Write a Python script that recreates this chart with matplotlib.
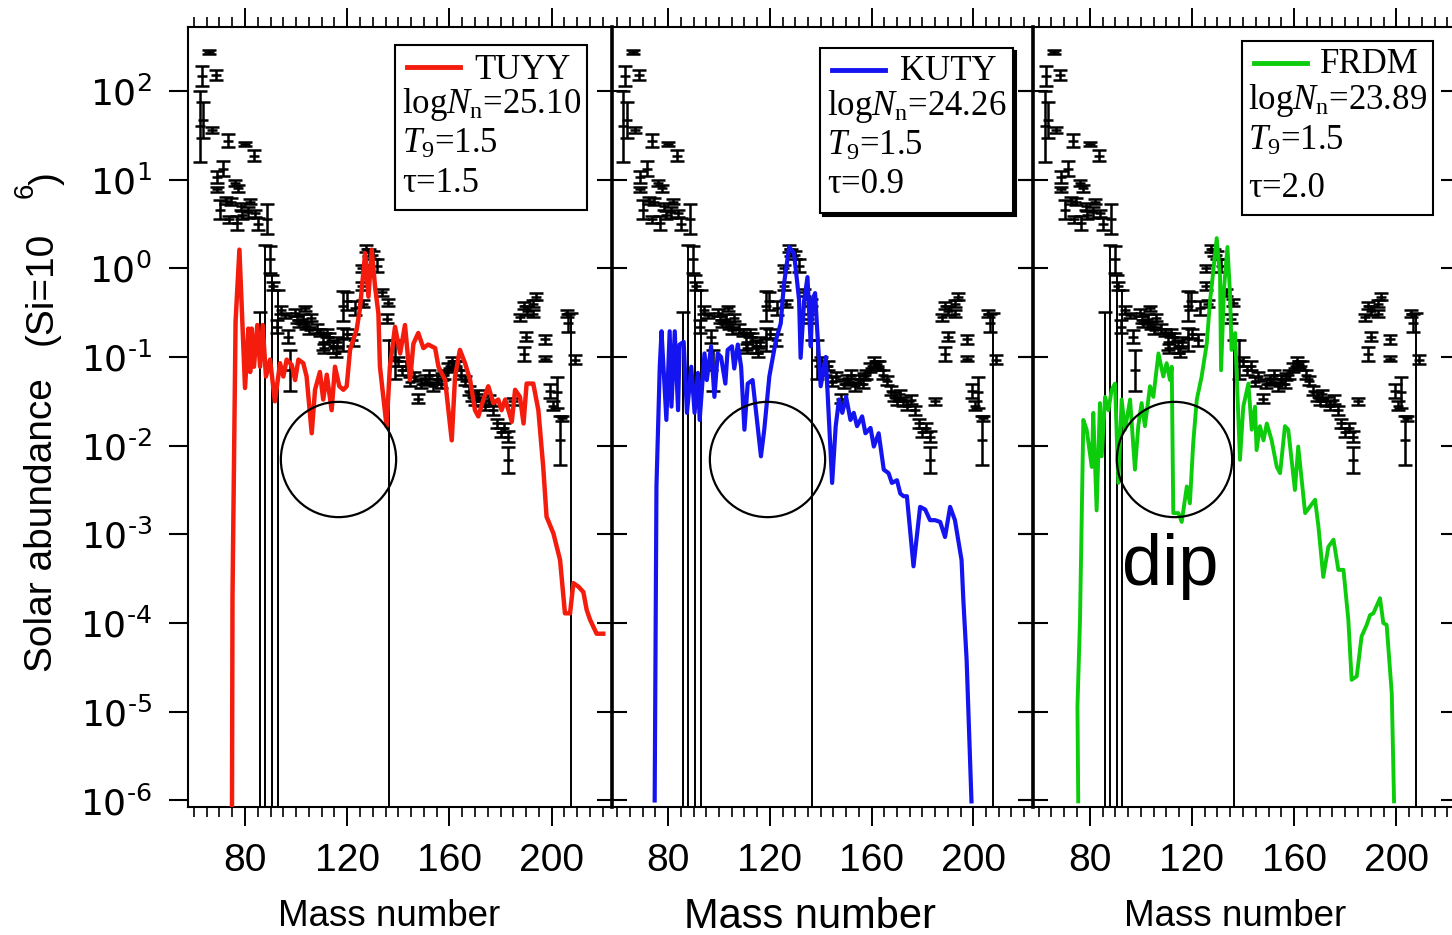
import numpy as np
import matplotlib
matplotlib.use("Agg")
import matplotlib.pyplot as plt
from matplotlib.patches import Rectangle
from matplotlib.lines import Line2D
from matplotlib.ticker import MultipleLocator, NullLocator, FixedLocator

# ---- solar abundance data (log10 of abundance, Si = 1e6) ----
solar_mass = [62.4, 63.0, 63.7, 66.0, 66.9, 68.5, 73.5, 80.0, 83.5,
              71.5, 68.9, 68.9, 76.1, 77.4, 70.2, 72.5, 74.5, 82.0, 76.7,
              81.3, 85.2, 88.5, 79.0, 84.0, 89.7, 91.0, 73.8, 78.5,
              94.0, 95.6, 92.4, 97.0, 99.5, 101.0, 103.5, 102.8, 106.0, 97.6,
              105.0, 108.0, 109.3, 110.6, 112.0, 113.0, 114.6, 116.0, 118.5,
              118.5, 120.0, 122.4, 123.0, 126.3, 100.5, 104.0, 111.0, 115.5,
              125.6, 125.6, 127.5, 128.5, 130.0, 131.5, 133.5, 136.0, 119.8,
              135.4,
              138.5, 140.0, 141.5, 143.0, 144.5, 146.0, 147.8, 149.0, 150.5,
              152.0, 153.5, 155.0, 156.5, 158.0, 159.5, 161.0, 163.0, 164.5,
              166.0, 167.5, 169.0, 171.0, 172.5, 174.0, 175.5, 177.0, 178.5,
              180.0, 181.5, 183.0, 183.0, 185.0, 151.0, 157.0, 162.0, 170.0,
              187.6, 189.0, 190.2, 192.8, 194.0, 192.8, 190.0, 189.0, 197.4,
              197.4, 205.9, 206.5, 209.0, 202.0, 199.4, 203.3, 204.0, 200.5]
solar_log = [1.60, 2.17, 1.67, 2.44, 1.56, 2.18, 1.44, 1.40, 1.27,
             1.12, 1.03, 0.89, 0.96, 0.90, 0.66, 0.76, 0.75, 0.75, 0.51,
             0.63, 0.50, 0.56, 0.60, 0.62, 0.10, -0.20, 0.55, 0.70,
             -0.47, -0.53, -0.66, -0.77, -0.50, -0.62, -0.45, -0.57, -0.56, -1.15,
             -0.70, -0.68, -0.72, -0.83, -0.73, -0.78, -0.88, -0.83, -0.80,
             -0.43, -0.74, -0.81, -0.45, -0.40, -0.58, -0.65, -0.90, -0.95,
             0.00, -0.20, 0.22, 0.18, 0.15, 0.03, -0.27, -0.39, -0.37,
             -0.57,
             -1.03, -1.05, -1.15, -1.10, -1.28, -1.22, -1.47, -1.30, -1.25,
             -1.20, -1.33, -1.25, -1.30, -1.20, -1.12, -1.05, -1.10, -1.20,
             -1.27, -1.38, -1.45, -1.42, -1.50, -1.55, -1.48, -1.60, -1.75,
             -1.85, -1.80, -1.90, -2.16, -1.50, -1.28, -1.22, -1.08, -1.50,
             -0.55, -0.42, -0.48, -0.40, -0.32, -0.51, -0.77, -0.97, -0.80,
             -1.02, -0.51, -0.62, -1.03, -1.40, -1.38, -1.94, -1.69, -1.55]
solar_err = [0.40, 0.11, 0.20, 0.02, 0.03, 0.06, 0.07, 0.02, 0.06,
             0.085, 0.07, 0.03, 0.03, 0.04, 0.11, 0.04, 0.04, 0.03, 0.075,
             0.06, 0.07, 0.17, 0.05, 0.04, 0.15, 0.05, 0.04, 0.04,
             0.04, 0.03, 0.075, 0.075, 0.04, 0.04, 0.03, 0.06, 0.04, 0.23,
             0.04, 0.05, 0.04, 0.09, 0.04, 0.05, 0.07, 0.05, 0.13,
             0.17, 0.05, 0.07, 0.08, 0.04, 0.04, 0.04, 0.05, 0.05,
             0.04, 0.04, 0.04, 0.04, 0.05, 0.07, 0.04, 0.04, 0.10,
             0.05,
             0.22, 0.05, 0.05, 0.05, 0.05, 0.05, 0.05, 0.05, 0.05,
             0.05, 0.05, 0.05, 0.05, 0.05, 0.05, 0.05, 0.05, 0.05,
             0.05, 0.05, 0.05, 0.05, 0.05, 0.05, 0.05, 0.05, 0.05,
             0.05, 0.05, 0.06, 0.15, 0.04, 0.04, 0.04, 0.04, 0.04,
             0.04, 0.04, 0.05, 0.04, 0.04, 0.04, 0.05, 0.08, 0.05,
             0.03, 0.04, 0.10, 0.05, 0.17, 0.08, 0.28, 0.03, 0.05]

# points whose lower error reaches below the plot
limit_mass = [86.0, 87.8, 90.6, 92.8, 136.4, 207.6]
limit_top = [-0.49, 0.26, -0.08, -0.25, -0.81, -0.50]

# ---- network calculations (log10 abundance) ----
tuyy_mass = [74.9, 75.1, 76.3, 77.8, 80.0, 81.3, 82.0, 82.6, 83.5, 84.8, 85.9, 86.9,
             88.2, 89.8, 91.7, 93.7, 95.0, 96.3, 98.3, 99.6, 100.9, 102.8, 104.1,
             106.1, 107.4, 109.3, 110.6, 112.0, 113.9, 115.2, 116.9, 118.5, 119.8,
             121.1, 123.7, 125.0, 127.0, 128.3, 129.6, 130.9, 132.2, 132.8, 135.4,
             136.7, 138.7, 140.7, 142.6, 144.6, 145.9, 147.8, 149.8, 151.7, 154.4,
             155.7, 158.3, 160.9, 162.2, 164.1, 166.1, 168.1, 170.0, 171.3, 173.3,
             175.2, 177.2, 179.1, 180.4, 181.8, 183.1, 184.4, 185.7, 187.6, 189.0,
             190.2, 192.8, 194.8, 196.7, 198.0, 200.7, 203.3, 205.2, 207.2, 208.5,
             210.5, 212.4, 213.7, 215.0, 217.6, 220.2]
tuyy_log = [-6.05, -3.7, -0.6, 0.21, -1.35, -0.68, -1.17, -0.68, -1.11, -0.64, -1.11, -0.64,
            -1.22, -1.03, -1.5, -1.07, -1.22, -1.03, -1.09, -1.26, -1.03, -1.07, -1.22,
            -1.86, -1.37, -1.17, -1.48, -1.2, -1.6, -1.11, -1.33, -1.37, -1.33,
            -0.92, -0.69, -0.45, 0.17, -0.32, 0.21, -0.21, -0.51, -1.11, -1.78,
            -1.11, -0.66, -0.96, -0.64, -1.26, -0.85, -0.73, -0.9, -0.86, -0.9,
            -1.11, -1.26, -1.94, -1.22, -0.92, -1.07, -1.26, -1.6, -1.67, -1.48,
            -1.33, -1.52, -1.48, -1.6, -1.48, -1.6, -1.73, -1.37, -1.45, -1.75,
            -1.3, -1.3, -1.6, -2.24, -2.8, -2.99, -3.29, -3.89, -3.89, -3.55,
            -3.59, -3.65, -3.85, -3.96, -4.12, -4.12]

kuty_mass = [74.7, 75.4, 76.7, 77.4, 79.3, 80.6, 81.3, 82.6, 83.9, 84.5, 86.1, 87.4,
             89.1, 90.4, 91.7, 92.4, 94.3, 95.2, 96.9, 98.2, 99.5, 100.8, 102.5,
             103.4, 105.1, 106.0, 107.4, 108.7, 110.0, 111.3, 113.2, 116.5, 117.8,
             119.8, 122.4, 124.3, 125.0, 125.6, 127.6, 129.5, 130.8, 131.5, 132.1,
             133.5, 134.8, 136.1, 136.7, 137.8, 138.7, 140.0, 142.0, 144.5, 145.9,
             147.2, 148.5, 150.0, 151.7, 153.0, 154.3, 156.3, 157.6, 159.6, 160.9,
             162.8, 164.8, 166.7, 168.0, 170.0, 171.3, 172.6, 173.9, 176.5, 179.1,
             181.1, 183.0, 185.0, 187.0, 188.9, 190.9, 192.8, 195.4, 196.1, 197.4,
             199.3]
kuty_log = [-6.0, -2.46, -1.11, -0.71, -1.71, -0.71, -1.56, -0.71, -1.6, -0.86, -0.83, -1.63,
            -1.11, -1.63, -1.18, -1.71, -0.96, -1.26, -0.88, -1.45, -0.96, -1.0, -1.3,
            -0.92, -0.88, -1.13, -0.86, -1.11, -1.82, -1.3, -1.26, -2.12, -1.82,
            -1.22, -0.81, -0.62, -0.36, -0.17, 0.24, 0.17, -0.17, -0.36, -1.01,
            -0.36, -0.1, -0.88, -0.36, -0.28, -0.73, -1.33, -1.0, -2.42, -1.78,
            -1.48, -1.63, -1.45, -1.71, -1.63, -1.78, -1.67, -1.86, -1.8, -2.01,
            -1.86, -2.27, -2.31, -2.42, -2.39, -2.54, -2.57, -2.57, -3.36, -2.69,
            -2.72, -2.84, -2.84, -2.86, -3.03, -2.69, -2.84, -3.29, -3.74, -4.42,
            -6.01]

frdm_mass = [75.5, 75.2, 76.2, 77.5, 78.8, 80.8, 81.4, 82.7, 84.0, 84.7, 86.0, 87.3,
             88.6, 89.9, 91.2, 92.5, 93.8, 95.8, 97.7, 99.0, 100.3, 101.6, 103.6,
             104.9, 106.9, 108.8, 110.1, 111.4, 112.1, 112.7, 114.7, 116.0, 118.0,
             119.2, 120.5, 121.9, 123.8, 125.8, 127.1, 127.7, 129.7, 131.0, 131.4,
             132.6, 133.9, 134.9, 135.5, 136.9, 138.8, 140.1, 142.1, 143.4, 144.7,
             145.3, 146.6, 148.0, 149.3, 151.2, 153.2, 154.5, 156.4, 157.7, 160.3,
             161.6, 164.3, 168.2, 169.5, 171.4, 173.4, 175.4, 177.3, 179.3, 181.2,
             182.5, 184.5, 186.4, 188.4, 189.7, 191.0, 193.0, 193.6, 194.9, 196.2,
             198.2, 199.1]
frdm_log = [-6.01, -4.94, -3.96, -1.71, -1.82, -2.24, -1.63, -2.73, -1.52, -2.12, -1.45, -1.6,
            -1.37, -1.3, -2.42, -1.48, -1.82, -1.48, -2.27, -1.78, -1.52, -1.78, -1.33,
            -1.45, -0.96, -1.22, -1.07, -1.26, -1.11, -2.76, -2.76, -2.86, -2.46,
            -2.65, -1.97, -1.48, -1.22, -0.85, -0.36, -0.21, 0.34, -0.09, -1.15,
            -0.21, 0.24, -0.28, -0.92, -0.73, -2.16, -1.56, -1.3, -1.82, -1.56,
            -2.05, -1.78, -1.94, -1.75, -1.94, -2.24, -2.31, -1.78, -1.82, -2.5,
            -2.01, -2.76, -2.61, -2.91, -3.48, -3.14, -3.06, -3.4, -3.4, -3.96,
            -4.64, -4.6, -4.15, -4.02, -3.91, -3.89, -3.76, -3.72, -4.0, -4.02,
            -4.79, -6.01]

model_names = ["TUYY", "KUTY", "FRDM"]
model_colors = ["#f41c0c", "#1414f0", "#0ccc0c"]
log_nn = ["25.10", "24.26", "23.89"]
t9 = ["1.5", "1.5", "1.5"]
tau = ["1.5", "0.9", "2.0"]

circle_mass = [116.4, 119.0, 113.0]
circle_log = [-2.15, -2.15, -2.15]

xtick_values = [80, 120, 160, 200]
xtick_labels = ["80", "120", "160", "200"]
ytick_exp = [-6, -5, -4, -3, -2, -1, 0, 1, 2]

sans = "Liberation Sans"
plt.rcParams["mathtext.fontset"] = "custom"
plt.rcParams["mathtext.rm"] = "Liberation Serif"
plt.rcParams["mathtext.it"] = "Liberation Serif:italic"

W, H = 1452, 935
fig = plt.figure(figsize=(W / 100, H / 100), dpi=100)

# axes boxes in pixels: left, right (top 27, bottom 807)
panel_px = [(188.3, 611.7), (611.7, 1033.0), (1033.0, 1456.4)]
top_px, bot_px = 27.0, 807.3

# legend layout in axes fraction
leg_box = [(0.488, 0.765, 0.942, 0.977), (0.494, 0.762, 0.953, 0.973), (0.494, 0.759, 0.945, 0.982)]
leg_line_y = [0.949, 0.945, 0.954]
leg_name = [(0.675, 0.933), (0.685, 0.932), (0.678, 0.941)]
leg_rows = [(0.505, [0.890, 0.839, 0.789]), (0.511, [0.887, 0.836, 0.787]), (0.508, [0.895, 0.842, 0.782])]

model_mass = [tuyy_mass, kuty_mass, frdm_mass]
model_log = [tuyy_log, kuty_log, frdm_log]
model_lw = [3.2, 3.0, 2.8]

s_m = np.array(solar_mass)
s_y = 10.0 ** np.array(solar_log)
s_lo = s_y - 10.0 ** (np.array(solar_log) - np.array(solar_err))
s_hi = 10.0 ** (np.array(solar_log) + np.array(solar_err)) - s_y
l_y = 10.0 ** np.array(limit_top)

for i in range(3):
    l, r = panel_px[i]
    ax = fig.add_axes([l / W, 1 - bot_px / H, (r - l) / W, (bot_px - top_px) / H])
    ax.set_yscale("log")
    ax.set_xlim(57.8, 223.5)
    ax.set_ylim(10 ** -6.077, 10 ** 2.72)

    # solar data
    ax.errorbar(s_m, s_y, yerr=[s_lo, s_hi], fmt="_", ms=7, mew=1.8, color="black",
                ecolor="black", elinewidth=1.8, capsize=5, capthick=1.8, zorder=2)
    ax.errorbar(limit_mass, l_y, yerr=[l_y - 1e-8, np.zeros(len(l_y))], fmt="none",
                ecolor="black", elinewidth=1.4, capsize=5, capthick=1.8, zorder=2)

    # model line
    ax.plot(model_mass[i], 10.0 ** np.array(model_log[i]), color=model_colors[i],
            lw=model_lw[i], zorder=3)

    # circle marking the dip
    ax.plot([circle_mass[i]], [10 ** circle_log[i]], "o", ms=83, mfc="none",
            mec="black", mew=1.6, zorder=4)

    # legend box
    x0, y0, x1, y1 = leg_box[i]
    if i == 1:
        ax.add_patch(Rectangle((x0 + 0.007, y0 - 0.004), x1 - x0, y1 - y0, transform=ax.transAxes,
                               fill=True, fc="black", ec="black", lw=1.5, zorder=5))
    ax.add_patch(Rectangle((x0, y0), x1 - x0, y1 - y0, transform=ax.transAxes,
                           fc="white", ec="black", lw=1.5, zorder=6))
    ax.add_line(Line2D([x0 + 0.029, x0 + 0.154], [leg_line_y[i]] * 2, transform=ax.transAxes,
                       color=model_colors[i], lw=3.5, zorder=7))
    ax.text(leg_name[i][0], leg_name[i][1], model_names[i], transform=ax.transAxes,
            fontsize=25, family="Liberation Serif", va="baseline", zorder=7)
    rx, ry = leg_rows[i]
    rows = [r"log$N_{\mathrm{n}}$=" + log_nn[i], r"$T_{\mathrm{9}}$=" + t9[i], "\u03c4=" + tau[i]]
    for txt, yy in zip(rows, ry):
        ax.text(rx, yy, txt, transform=ax.transAxes, fontsize=25,
                family="Liberation Serif", va="baseline", zorder=7)

    # ticks
    ax.xaxis.set_major_locator(FixedLocator(xtick_values))
    ax.xaxis.set_minor_locator(MultipleLocator(5))
    ax.set_xticklabels(xtick_labels, fontsize=28, family=sans)
    ax.tick_params(axis="x", which="major", direction="out", length=13.5, width=1.4,
                   top=True, pad=12)
    ax.tick_params(axis="x", which="minor", direction="out", length=7, width=1.2, top=True)
    ax.yaxis.set_major_locator(FixedLocator([10.0 ** k for k in ytick_exp]))
    ax.yaxis.set_minor_locator(NullLocator())
    if i == 0:
        ax.set_yticklabels([r"$\mathdefault{10^{%s}}$" % str(k).replace("-", "\u2010")
                            for k in ytick_exp], fontsize=26)
        ax.tick_params(axis="y", which="major", direction="out", length=14, width=1.5,
                       pad=12)
        ax.tick_params(axis="y", which="major", right=True)
    else:
        ax.tick_params(axis="y", which="major", direction="inout", length=22, width=1.5,
                       right=True, labelleft=False)
    for side in ["top", "bottom", "right"]:
        ax.spines[side].set_linewidth(1.5)
    ax.spines["left"].set_linewidth(1.5 if i == 0 else 2.6)

    if i == 2:
        ax.text(92.6, 10 ** -3.57, "dip", fontsize=52, family=sans,
                va="baseline", zorder=7)

# x labels
xlabel_px = [(389.5, 26.5), (810.0, 30), (1235.0, 26.5)]
for cx, fs in xlabel_px:
    fig.text(cx / W, 1 - 917 / H, "Mass number", fontsize=fs, family=sans,
             ha="center", va="center")

# y label
fig.text(42 / W, 1 - 525 / H, "Solar abundance", rotation=90, fontsize=28,
         family=sans, ha="center", va="center")
fig.text(42 / W, 1 - 288 / H, "(Si=10", rotation=90, fontsize=28,
         family=sans, ha="center", va="center")
fig.text(26 / W, 1 - 190 / H, "6", rotation=90, fontsize=20,
         family=sans, ha="center", va="center")
fig.text(47 / W, 1 - 179 / H, ")", rotation=90, fontsize=28,
         family=sans, ha="center", va="center")

fig.savefig("out.png", dpi=100)
